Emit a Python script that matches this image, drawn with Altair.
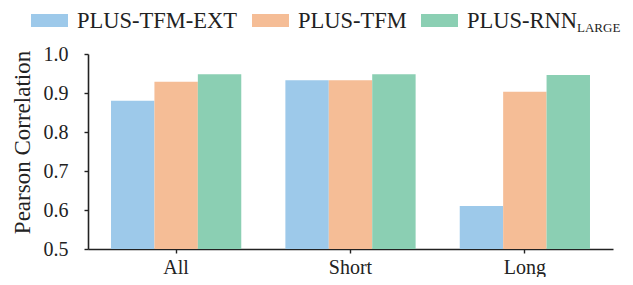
import altair as alt
import pandas as pd

categories = ["All", "Short", "Long"]
series = ["PLUS-TFM-EXT", "PLUS-TFM", "PLUS-RNN_LARGE"]
tfm_ext = [0.880, 0.933, 0.610]
tfm = [0.929, 0.933, 0.903]
rnn_large = [0.948, 0.948, 0.946]
colors = ["#9DC9EA", "#F5BD96", "#8BCFB3"]
y_ticks = [0.5, 0.6, 0.7, 0.8, 0.9, 1.0]
y_min, y_max = 0.5, 1.0

rows = []
for s, vals in zip(series, [tfm_ext, tfm, rnn_large]):
    for c, v in zip(categories, vals):
        rows.append({"category": c, "model": s, "value": v})
df = pd.DataFrame(rows)

FONT = "Liberation Serif"
rect_path = "M-1,-0.35H1V0.35H-1Z"

bars = alt.Chart(df).mark_bar().encode(
    x=alt.X(
        "category:N",
        sort=categories,
        scale=alt.Scale(paddingInner=0.253, paddingOuter=0.132),
        axis=alt.Axis(title=None, labelAngle=0, labelPadding=4, tickSize=4),
    ),
    xOffset=alt.XOffset(
        "model:N", sort=series, scale=alt.Scale(paddingInner=0, paddingOuter=0)
    ),
    y=alt.Y(
        "value:Q",
        scale=alt.Scale(domain=[y_min, y_max], zero=False, nice=False),
        axis=alt.Axis(
            title="Pearson Correlation",
            values=y_ticks,
            format=".1f",
            tickSize=4,
            labelPadding=16,
            titleAngle=-90,
            titleX=-59,
            titleY=88,
            titleBaseline="alphabetic",
            titleAlign="center",
            titleFontSize=23,
        ),
    ),
    y2=alt.datum(y_min),
    color=alt.Color(
        "model:N",
        sort=series,
        scale=alt.Scale(domain=series, range=colors),
        legend=alt.Legend(
            title=None,
            orient="none",
            legendX=-57,
            legendY=-52,
            direction="horizontal",
            symbolType=rect_path,
            symbolSize=1369,
            symbolStrokeWidth=0,
            symbolOpacity=1,
            labelFontSize=22.5,
            labelOffset=9,
            labelLimit=400,
            columnPadding=14,
            padding=0,
            labelExpr="datum.label == 'PLUS-RNN_LARGE' ? 'PLUS-RNN' : datum.label",
        ),
    ),
)

sub = alt.Chart(pd.DataFrame({"t": ["LARGE"]})).mark_text(
    font=FONT, fontSize=13, align="left", baseline="alphabetic", color="#222"
).encode(x=alt.value(489), y=alt.value(-22), text="t:N")

chart = (
    alt.layer(bars, sub)
    .properties(
        width=525,
        height=195,
        autosize=alt.AutoSizeParams(type="none"),
        padding={"left": 80, "top": 46, "right": 12, "bottom": 28},
    )
    .configure_axis(
        labelFont=FONT,
        titleFont=FONT,
        labelFontSize=20,
        labelColor="#222",
        titleColor="#222",
        titleFontWeight="normal",
        domainColor="#222",
        tickColor="#222",
        domainWidth=1.6,
        tickWidth=1.4,
        grid=False,
    )
    .configure_legend(labelFont=FONT, labelColor="#222")
    .configure_view(stroke=None)
)

chart.save("out.html", embed_options={"renderer": "svg", "actions": False})
